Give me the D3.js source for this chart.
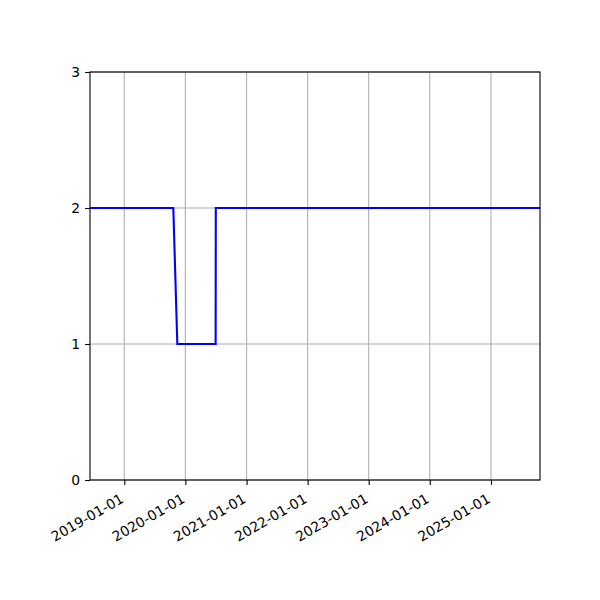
<!DOCTYPE html>
<html>
<head>
<meta charset="utf-8">
<script src="https://cdn.jsdelivr.net/npm/d3@7"></script>
<style>
  body { margin: 0; background: #fff; }
  text { font-family: "DejaVu Sans", sans-serif; }
</style>
</head>
<body>
<script>
// values
var dates = ["2018-06-10", "2019-10-21", "2019-11-14", "2020-06-30", "2020-07-01", "2025-10-21"];
var values = [2, 2, 1, 1, 2, 2];
var tickDates = ["2019-01-01", "2020-01-01", "2021-01-01", "2022-01-01", "2023-01-01", "2024-01-01", "2025-01-01"];
var yTicks = [0, 1, 2, 3];

var parse = d3.timeParse("%Y-%m-%d");
var fmt = d3.timeFormat("%Y-%m-%d");
var points = dates.map(function(d, i){ return {date: parse(d), value: values[i]}; });

var mLeft = 90, mRight = 540, mTop = 72, mBottom = 480;

var svg = d3.select("body").append("svg")
    .attr("width", 600)
    .attr("height", 600);

var x = d3.scaleTime()
    .domain([parse("2018-06-10"), parse("2025-10-21")])
    .range([mLeft, mRight]);

var y = d3.scaleLinear()
    .domain([0, 3])
    .range([mBottom, mTop]);

// grid
svg.append("g").selectAll("line")
    .data(tickDates.map(parse))
    .enter().append("line")
    .attr("x1", function(d){ return x(d); })
    .attr("x2", function(d){ return x(d); })
    .attr("y1", mTop).attr("y2", mBottom)
    .attr("stroke", "#b0b0b0").attr("stroke-width", 1.1);

svg.append("g").selectAll("line")
    .data(yTicks)
    .enter().append("line")
    .attr("x1", mLeft).attr("x2", mRight)
    .attr("y1", function(d){ return y(d); })
    .attr("y2", function(d){ return y(d); })
    .attr("stroke", "#b0b0b0").attr("stroke-width", 1.1);

// the line
var line = d3.line()
    .x(function(d){ return x(d.date); })
    .y(function(d){ return y(d.value); });

svg.append("path")
    .datum(points)
    .attr("d", line)
    .attr("fill", "none")
    .attr("stroke", "blue")
    .attr("stroke-width", 2.1);

// axes
var xAxis = svg.append("g")
    .attr("transform", "translate(0," + mBottom + ")")
    .call(d3.axisBottom(x).tickValues(tickDates.map(parse)).tickFormat(fmt).tickSize(4.9));

xAxis.selectAll("text")
    .attr("font-size", 13.9)
    .attr("fill", "#000")
    .style("text-anchor", "end")
    .attr("x", 0).attr("y", 0)
    .attr("dy", "0.71em")
    .attr("transform", "translate(-5,13) rotate(-30)");

var yAxis = svg.append("g")
    .attr("transform", "translate(" + mLeft + ",0)")
    .call(d3.axisLeft(y).tickValues(yTicks).tickFormat(d3.format("d")).tickSize(4.9).tickPadding(4.9));

yAxis.selectAll("text").attr("font-size", 13.9).attr("fill", "#000");

svg.selectAll(".domain").remove();
svg.selectAll(".tick line").attr("stroke", "#000").attr("stroke-width", 1.1);

// frame
svg.append("rect")
    .attr("x", mLeft).attr("y", mTop)
    .attr("width", mRight - mLeft).attr("height", mBottom - mTop)
    .attr("fill", "none").attr("stroke", "#000").attr("stroke-width", 1.1);
</script>
</body>
</html>
